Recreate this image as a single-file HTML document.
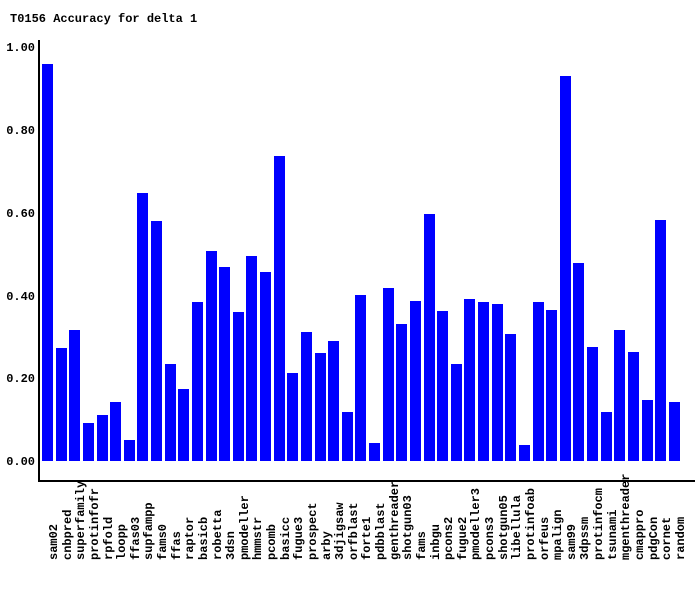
<!DOCTYPE html>
<html><head><meta charset="utf-8"><style>
html,body{margin:0;padding:0;background:#fff;overflow:hidden;}
svg{display:block;}
text{font-family:"Liberation Mono","DejaVu Sans Mono",monospace;font-size:12px;font-weight:bold;fill:#000;}
</style></head><body>
<svg width="700" height="590" viewBox="0 0 700 590" xmlns="http://www.w3.org/2000/svg">
<rect width="700" height="590" fill="#fff"/>
<text x="10" y="22">T0156 Accuracy for delta 1</text>
<g text-anchor="end">
<text x="35" y="51">1.00</text>
<text x="35" y="134">0.80</text>
<text x="35" y="217">0.60</text>
<text x="35" y="300">0.40</text>
<text x="35" y="382">0.20</text>
<text x="35" y="465">0.00</text>
</g>
<g fill="#0000ff">
<rect x="42" y="64" width="11" height="397"/>
<rect x="56" y="348" width="11" height="113"/>
<rect x="69" y="330" width="11" height="131"/>
<rect x="83" y="423" width="11" height="38"/>
<rect x="97" y="415" width="11" height="46"/>
<rect x="110" y="402" width="11" height="59"/>
<rect x="124" y="440" width="11" height="21"/>
<rect x="137" y="193" width="11" height="268"/>
<rect x="151" y="221" width="11" height="240"/>
<rect x="165" y="364" width="11" height="97"/>
<rect x="178" y="389" width="11" height="72"/>
<rect x="192" y="302" width="11" height="159"/>
<rect x="206" y="251" width="11" height="210"/>
<rect x="219" y="267" width="11" height="194"/>
<rect x="233" y="312" width="11" height="149"/>
<rect x="246" y="256" width="11" height="205"/>
<rect x="260" y="272" width="11" height="189"/>
<rect x="274" y="156" width="11" height="305"/>
<rect x="287" y="373" width="11" height="88"/>
<rect x="301" y="332" width="11" height="129"/>
<rect x="315" y="353" width="11" height="108"/>
<rect x="328" y="341" width="11" height="120"/>
<rect x="342" y="412" width="11" height="49"/>
<rect x="355" y="295" width="11" height="166"/>
<rect x="369" y="443" width="11" height="18"/>
<rect x="383" y="288" width="11" height="173"/>
<rect x="396" y="324" width="11" height="137"/>
<rect x="410" y="301" width="11" height="160"/>
<rect x="424" y="214" width="11" height="247"/>
<rect x="437" y="311" width="11" height="150"/>
<rect x="451" y="364" width="11" height="97"/>
<rect x="464" y="299" width="11" height="162"/>
<rect x="478" y="302" width="11" height="159"/>
<rect x="492" y="304" width="11" height="157"/>
<rect x="505" y="334" width="11" height="127"/>
<rect x="519" y="445" width="11" height="16"/>
<rect x="533" y="302" width="11" height="159"/>
<rect x="546" y="310" width="11" height="151"/>
<rect x="560" y="76" width="11" height="385"/>
<rect x="573" y="263" width="11" height="198"/>
<rect x="587" y="347" width="11" height="114"/>
<rect x="601" y="412" width="11" height="49"/>
<rect x="614" y="330" width="11" height="131"/>
<rect x="628" y="352" width="11" height="109"/>
<rect x="642" y="400" width="11" height="61"/>
<rect x="655" y="220" width="11" height="241"/>
<rect x="669" y="402" width="11" height="59"/>
</g>
<rect x="38" y="40" width="2" height="442" fill="#000"/>
<rect x="38" y="480" width="657" height="2" fill="#000"/>
<g text-anchor="start">
<text transform="translate(57,560) rotate(-90)">sam02</text>
<text transform="translate(71,560) rotate(-90)">cnbpred</text>
<text transform="translate(84,560) rotate(-90)">superfamily</text>
<text transform="translate(98,560) rotate(-90)">protinfofr</text>
<text transform="translate(112,560) rotate(-90)">rpfold</text>
<text transform="translate(125,560) rotate(-90)">loopp</text>
<text transform="translate(139,560) rotate(-90)">ffas03</text>
<text transform="translate(152,560) rotate(-90)">supfampp</text>
<text transform="translate(166,560) rotate(-90)">fams0</text>
<text transform="translate(180,560) rotate(-90)">ffas</text>
<text transform="translate(193,560) rotate(-90)">raptor</text>
<text transform="translate(207,560) rotate(-90)">basicb</text>
<text transform="translate(221,560) rotate(-90)">robetta</text>
<text transform="translate(234,560) rotate(-90)">3dsn</text>
<text transform="translate(248,560) rotate(-90)">pmodeller</text>
<text transform="translate(261,560) rotate(-90)">hmmstr</text>
<text transform="translate(275,560) rotate(-90)">pcomb</text>
<text transform="translate(289,560) rotate(-90)">basicc</text>
<text transform="translate(302,560) rotate(-90)">fugue3</text>
<text transform="translate(316,560) rotate(-90)">prospect</text>
<text transform="translate(330,560) rotate(-90)">arby</text>
<text transform="translate(343,560) rotate(-90)">3djigsaw</text>
<text transform="translate(357,560) rotate(-90)">orfblast</text>
<text transform="translate(370,560) rotate(-90)">forte1</text>
<text transform="translate(384,560) rotate(-90)">pdbblast</text>
<text transform="translate(398,560) rotate(-90)">genthreader</text>
<text transform="translate(411,560) rotate(-90)">shotgun03</text>
<text transform="translate(425,560) rotate(-90)">fams</text>
<text transform="translate(439,560) rotate(-90)">inbgu</text>
<text transform="translate(452,560) rotate(-90)">pcons2</text>
<text transform="translate(466,560) rotate(-90)">fugue2</text>
<text transform="translate(479,560) rotate(-90)">pmodeller3</text>
<text transform="translate(493,560) rotate(-90)">pcons3</text>
<text transform="translate(507,560) rotate(-90)">shotgun05</text>
<text transform="translate(520,560) rotate(-90)">libellula</text>
<text transform="translate(534,560) rotate(-90)">protinfoab</text>
<text transform="translate(548,560) rotate(-90)">orfeus</text>
<text transform="translate(561,560) rotate(-90)">mpalign</text>
<text transform="translate(575,560) rotate(-90)">sam99</text>
<text transform="translate(588,560) rotate(-90)">3dpssm</text>
<text transform="translate(602,560) rotate(-90)">protinfocm</text>
<text transform="translate(616,560) rotate(-90)">tsunami</text>
<text transform="translate(629,560) rotate(-90)">mgenthreader</text>
<text transform="translate(643,560) rotate(-90)">cmappro</text>
<text transform="translate(657,560) rotate(-90)">pdgCon</text>
<text transform="translate(670,560) rotate(-90)">cornet</text>
<text transform="translate(684,560) rotate(-90)">random</text>
</g>
</svg>
</body></html>
